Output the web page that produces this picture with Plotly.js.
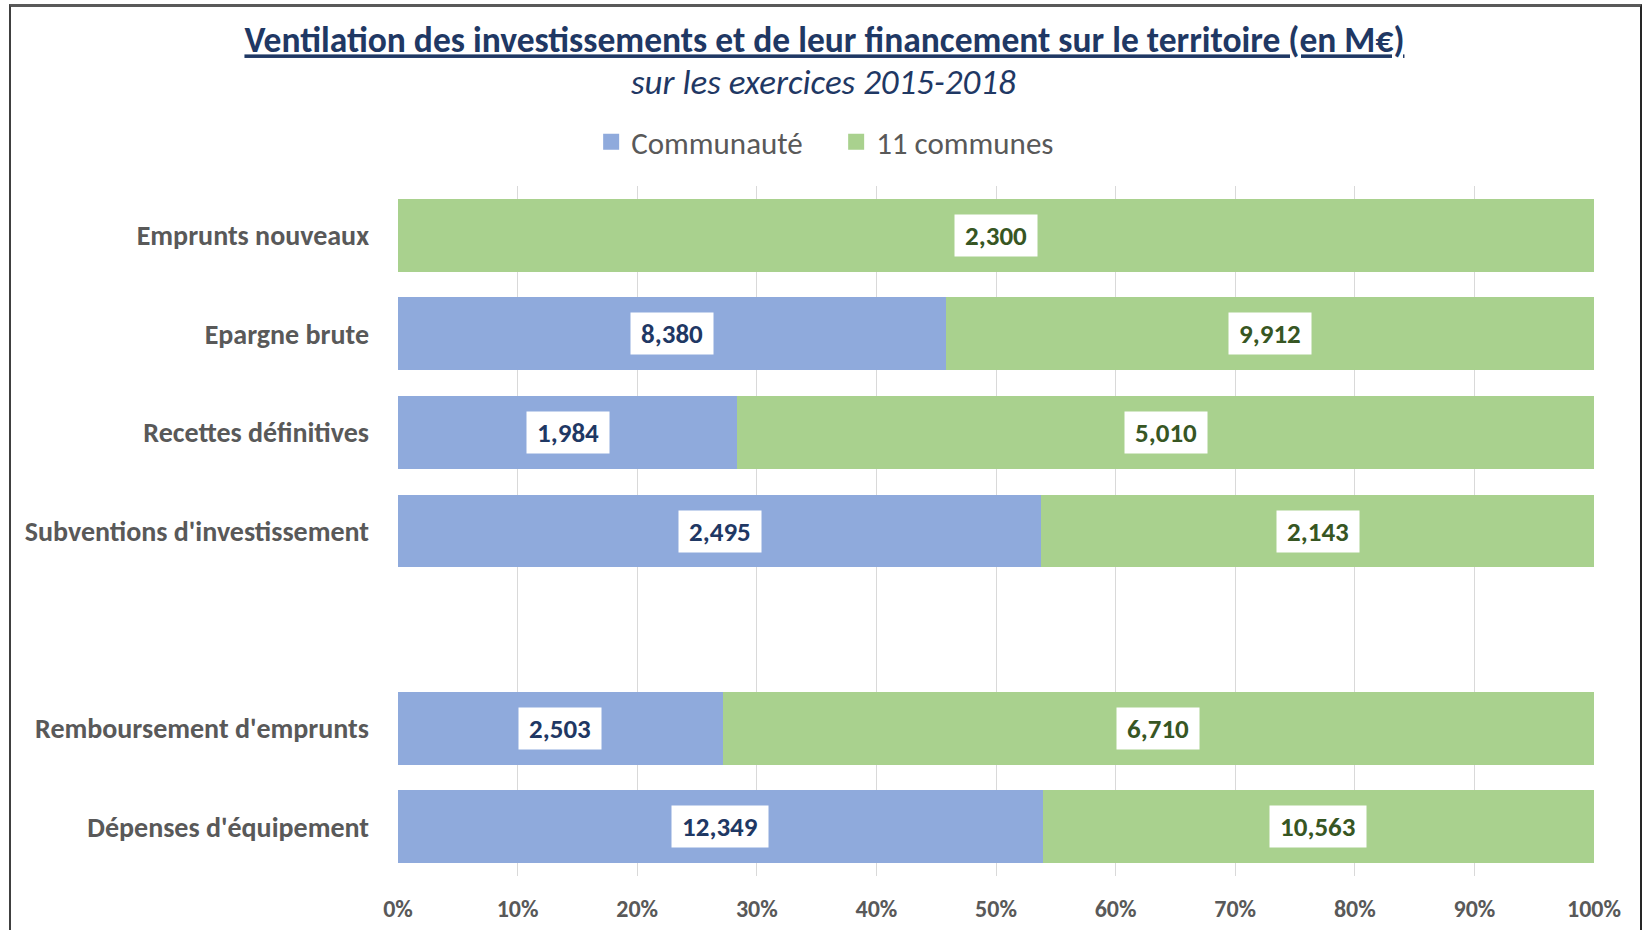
<!DOCTYPE html>
<html>
<head>
<meta charset="utf-8">
<script src="https://cdn.plot.ly/plotly-3.0.1.min.js"></script>
<style>
  html, body { margin: 0; padding: 0; background: #fff; overflow: hidden; }
  #chart { width: 1644px; height: 930px; }
  #frame { position: absolute; left: 9px; top: 4px; width: 1629px; height: 960px;
           border-top: 3px solid #595959; border-left: 2px solid #404040; border-right: 2px solid #262626;
           pointer-events: none; }
</style>
</head>
<body>
<div id="chart"></div>
<div id="frame"></div>
<script>
// Categories, top to bottom (the blank entry is the empty gap row)
const categories = [
  "Emprunts nouveaux",
  "Epargne brute",
  "Recettes définitives",
  "Subventions d'investissement",
  " ",
  "Remboursement d'emprunts",
  "Dépenses d'équipement"
];
const communaute = [null, 8380, 1984, 2495, null, 2503, 12349];
const communes   = [2300, 9912, 5010, 2143, null, 6710, 10563];
const seriesNames = ["Communauté", "11 communes"];
const xTicks = [0, 10, 20, 30, 40, 50, 60, 70, 80, 90, 100];

const FONT = "Carlito, Lato, 'Open Sans', sans-serif";
const BLUE = "#8FAADC", GREEN = "#A9D18E";
const NAVY = "#1F3864", DKGREEN = "#375623", GREY = "#595959";

const traces = [
  { type: "bar", orientation: "h", name: seriesNames[0], y: categories, x: communaute,
    marker: { color: BLUE }, textposition: "none", showlegend: false, hoverinfo: "x+y+name" },
  { type: "bar", orientation: "h", name: seriesNames[1], y: categories, x: communes,
    marker: { color: GREEN }, textposition: "none", showlegend: false, hoverinfo: "x+y+name" },
  // legend entries with larger square keys
  { type: "scatter", mode: "markers", name: seriesNames[0], x: [null], y: [null],
    marker: { symbol: "square", size: 18, color: BLUE }, showlegend: true, hoverinfo: "skip" },
  { type: "scatter", mode: "markers", name: seriesNames[1], x: [null], y: [null],
    marker: { symbol: "square", size: 18, color: GREEN }, showlegend: true, hoverinfo: "skip" }
];

// value labels in white boxes, centred in each segment
const fmt = v => v.toLocaleString("en-US");
const NB = "\u00a0";
const annotations = [];
categories.forEach((c, i) => {
  const a = communaute[i] || 0, b = communes[i] || 0, tot = a + b;
  if (!tot) return;
  const pa = a / tot * 100;
  if (communaute[i]) {
    annotations.push({ x: pa / 2, y: c, xref: "x", yref: "y", text: NB + fmt(a) + NB,
      showarrow: false, bgcolor: "#fff", borderpad: 4,
      font: { family: FONT, size: 27, color: NAVY, weight: "bold" } });
  }
  if (communes[i]) {
    annotations.push({ x: pa + (100 - pa) / 2, y: c, xref: "x", yref: "y", text: NB + fmt(b) + NB,
      showarrow: false, bgcolor: "#fff", borderpad: 4,
      font: { family: FONT, size: 27, color: DKGREEN, weight: "bold" } });
  }
});
annotations.push({
  xref: "paper", yref: "paper", x: 0.356, y: 1.1507, xanchor: "center", yanchor: "middle",
  text: "<i>sur les exercices 2015-2018</i>", showarrow: false,
  font: { family: FONT, size: 35, color: NAVY }
});

const layout = {
  width: 1644, height: 930,
  paper_bgcolor: "#fff", plot_bgcolor: "#fff",
  margin: { l: 398, r: 50, t: 186, b: 54, pad: 0 },
  barmode: "stack", barnorm: "percent", bargap: 0.26,
  font: { family: FONT, color: GREY },
  title: {
    text: "<u>Ventilation des investissements et de leur financement sur le territoire (en M€)</u>",
    xref: "container", yref: "container", x: 0.5015, y: 0.957, xanchor: "center", yanchor: "middle",
    font: { family: FONT, size: 35.5, color: NAVY, weight: "bold" }
  },
  xaxis: {
    range: [0, 100], tickmode: "array", tickvals: xTicks, ticktext: xTicks.map(t => t + "%"),
    showgrid: true, gridcolor: "#D9D9D9", gridwidth: 1, zeroline: false, showline: false,
    ticks: "outside", ticklen: 11, tickcolor: "rgba(0,0,0,0)",
    tickfont: { family: FONT, size: 24, color: GREY, weight: "bold" }, fixedrange: true
  },
  yaxis: {
    type: "category", categoryorder: "array", categoryarray: categories, autorange: "reversed",
    showgrid: false, zeroline: false, showline: false,
    ticks: "", ticklabelstandoff: 28,
    tickfont: { family: FONT, size: 28, color: GREY, weight: "bold" }, fixedrange: true
  },
  legend: {
    orientation: "h", x: 0.1615, y: 1.0638, xanchor: "left", yanchor: "middle",
    font: { family: FONT, size: 31, color: GREY }, traceorder: "normal",
    itemwidth: 30, itemsizing: "trace", entrywidth: 200, entrywidthmode: "pixels",
    bgcolor: "rgba(0,0,0,0)"
  },
  annotations: annotations,
  showlegend: true
};

Plotly.newPlot("chart", traces, layout, { displayModeBar: false, staticPlot: true });
</script>
</body>
</html>
